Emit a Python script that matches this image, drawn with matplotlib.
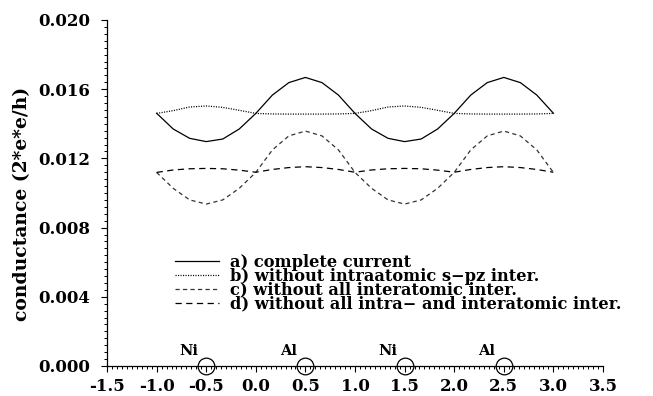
import matplotlib
matplotlib.use("Agg")
import matplotlib.pyplot as plt
from matplotlib.ticker import MultipleLocator, FormatStrFormatter

plt.rcParams['font.family'] = 'DejaVu Serif'
plt.rcParams['lines.scale_dashes'] = False

# positions along the chain, step 1/6
x = [-1.0, -0.833, -0.667, -0.5, -0.333, -0.167, 0.0, 0.167, 0.333, 0.5, 0.667, 0.833,
     1.0, 1.167, 1.333, 1.5, 1.667, 1.833, 2.0, 2.167, 2.333, 2.5, 2.667, 2.833, 3.0]

g_complete = [0.01461, 0.01370, 0.01316, 0.01297, 0.01312, 0.01370, 0.01460, 0.01566,
              0.01638, 0.01668, 0.01638, 0.01566, 0.01460, 0.01370, 0.01316, 0.01297,
              0.01312, 0.01370, 0.01460, 0.01566, 0.01638, 0.01668, 0.01638, 0.01566, 0.01461]
g_no_spz = [0.01460, 0.01476, 0.01497, 0.01503, 0.01495, 0.01478, 0.01460, 0.01457,
            0.01456, 0.01456, 0.01456, 0.01457, 0.01460, 0.01476, 0.01497, 0.01503,
            0.01495, 0.01478, 0.01460, 0.01457, 0.01456, 0.01456, 0.01456, 0.01457, 0.01460]
g_no_inter = [0.01119, 0.01027, 0.00960, 0.00936, 0.00960, 0.01027, 0.01119, 0.01249,
              0.01330, 0.01358, 0.01330, 0.01249, 0.01119, 0.01027, 0.00960, 0.00936,
              0.00960, 0.01027, 0.01119, 0.01249, 0.01330, 0.01358, 0.01330, 0.01249, 0.01119]
g_no_all = [0.01119, 0.01133, 0.01140, 0.01142, 0.01140, 0.01132, 0.01120, 0.01136,
            0.01147, 0.01152, 0.01147, 0.01136, 0.01120, 0.01133, 0.01140, 0.01142,
            0.01140, 0.01132, 0.01120, 0.01136, 0.01147, 0.01152, 0.01147, 0.01136, 0.01120]

labels = ["a) complete current",
          "b) without intraatomic s\u2212pz inter.",
          "c) without all interatomic inter.",
          "d) without all intra\u2212 and interatomic inter."]

atom_x = [-0.5, 0.5, 1.5, 2.5]
atom_names = ["Ni", "Al", "Ni", "Al"]

fig = plt.figure(figsize=(6.53, 3.96), dpi=100)
ax = fig.add_axes([0.1639, 0.0758, 0.7595, 0.8737])

lw = 0.9
ax.plot(x, g_complete, color='black', lw=lw, linestyle='-', label=labels[0])
ax.plot(x, g_no_spz, color='black', lw=lw, linestyle=(0, (0.8, 1.0)), label=labels[1])
ax.plot(x, g_no_inter, color='#333333', lw=lw, linestyle=(0, (3.0, 2.4)), label=labels[2])
ax.plot(x, g_no_all, color='black', lw=lw, linestyle=(0, (4.5, 3.2)), label=labels[3])

# atom sites on the axis
ax.plot(atom_x, [0] * len(atom_x), 'o', ms=12, mfc='none', mec='black', mew=0.9,
        clip_on=False, zorder=5)
for xa, name in zip(atom_x, atom_names):
    ax.text(xa - 0.17, 0.00084, name, ha='center', va='center', fontsize=10.5,
            fontweight='bold')

ax.set_xlim(-1.5, 3.5)
ax.set_ylim(0.0, 0.020)
ax.xaxis.set_major_locator(MultipleLocator(0.5))
ax.xaxis.set_minor_locator(MultipleLocator(0.05))
ax.yaxis.set_major_locator(MultipleLocator(0.004))
ax.yaxis.set_minor_locator(MultipleLocator(0.0004))
ax.xaxis.set_major_formatter(FormatStrFormatter('%.1f'))
ax.yaxis.set_major_formatter(FormatStrFormatter('%.3f'))

for side in ['top', 'right']:
    ax.spines[side].set_visible(False)
for side in ['left', 'bottom']:
    ax.spines[side].set_linewidth(0.9)

ax.tick_params(axis='both', which='major', direction='out', length=4, width=0.8,
               labelsize=12)
ax.tick_params(axis='both', which='minor', direction='out', length=2.5, width=0.7)
ax.tick_params(axis='y', which='major', pad=8)
ax.tick_params(axis='x', which='major', pad=5)
for lab in ax.get_xticklabels() + ax.get_yticklabels():
    lab.set_fontweight('bold')

fig.text(22 / 653, 1 - 204 / 396, "conductance (2*e*e/h)", rotation=90,
         ha='center', va='center', fontsize=13.5, fontweight='bold')

leg = ax.legend(loc='upper left', bbox_to_anchor=(175 / 653, 1 - 254 / 396),
                bbox_transform=fig.transFigure, frameon=False, fontsize=11.7,
                handlelength=2.7, handletextpad=0.7, labelspacing=-0.2,
                borderpad=0.0, borderaxespad=0.0)
for t in leg.get_texts():
    t.set_fontweight('bold')

fig.savefig("out.png", dpi=100)
